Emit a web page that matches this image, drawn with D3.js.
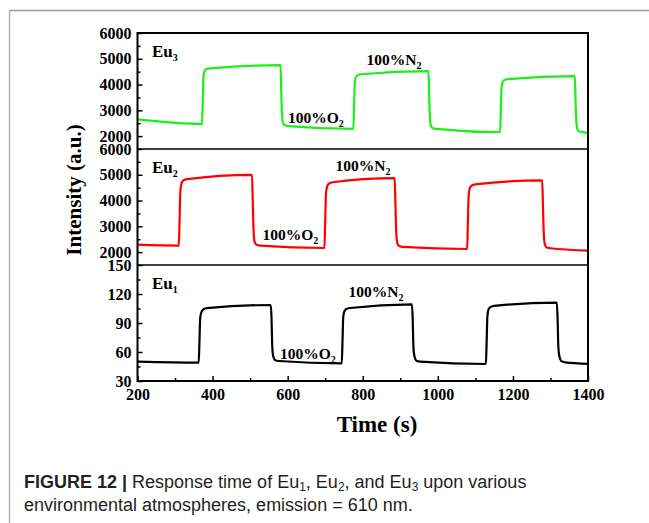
<!DOCTYPE html>
<html><head><meta charset="utf-8">
<script src="https://cdn.jsdelivr.net/npm/d3@7"></script>
<style>body{margin:0;background:#fff}svg{display:block}</style>
</head><body>
<script>
// ---------- data ----------
const xTicks = [200, 400, 600, 800, 1000, 1200, 1400];
const xMinorTicks = [300, 500, 700, 900, 1100, 1300];
const ticksEu3 = [2000, 3000, 4000, 5000, 6000];
const minorEu3 = [2500, 3500, 4500, 5500];
const ticksEu2 = [2000, 3000, 4000, 5000, 6000];
const minorEu2 = [2500, 3500, 4500, 5500];
const ticksEu1 = [30, 60, 90, 120, 150];
const minorEu1 = [45, 75, 105, 135];

// Eu3 (green) time / intensity
const eu3Time = [200, 372, 374, 376, 379, 384, 394, 581, 583, 585, 588, 593, 603,
  775, 777, 779, 782, 787, 797, 975, 977, 979, 982, 987, 997,
  1166, 1168, 1170, 1173, 1178, 1188, 1365, 1367, 1369, 1372, 1377, 1387, 1400];
const eu3Val = [2650, 2470, 3500, 4350, 4530, 4600, 4630, 4750, 3700, 2800, 2500, 2420, 2390,
  2280, 3300, 4100, 4300, 4370, 4400, 4520, 3500, 2700, 2380, 2300, 2280,
  2150, 3150, 3950, 4120, 4180, 4210, 4330, 3300, 2550, 2250, 2180, 2160, 2100];

// Eu2 (red)
const eu2Time = [200, 310, 312, 314, 317, 322, 332, 505, 507, 509, 512, 517, 527,
  698, 700, 702, 705, 710, 720, 885, 887, 889, 892, 897, 907,
  1078, 1080, 1082, 1085, 1090, 1100, 1278, 1280, 1282, 1285, 1290, 1300, 1400];
const eu2Val = [2290, 2255, 3200, 4300, 4650, 4780, 4830, 5000, 4000, 2900, 2400, 2290, 2250,
  2160, 3200, 4250, 4550, 4660, 4710, 4870, 3900, 2850, 2350, 2240, 2200,
  2120, 3100, 4150, 4470, 4580, 4630, 4780, 3800, 2800, 2300, 2180, 2150, 2060];

// Eu1 (black)
const eu1Time = [200, 363, 365, 367, 370, 375, 385, 555, 557, 559, 562, 567, 577,
  744, 746, 748, 751, 756, 766, 931, 933, 935, 938, 943, 953,
  1128, 1130, 1132, 1135, 1140, 1150, 1317, 1319, 1321, 1324, 1329, 1339, 1400];
const eu1Val = [50, 49, 70, 95, 101, 104, 105.3, 108.6, 95, 65, 55, 51.5, 50.7,
  48.3, 70, 96, 102, 104.5, 105.5, 109.3, 95, 65, 55, 51, 50,
  47.6, 70, 97, 104, 106.5, 107.8, 111, 95, 65, 55, 50.5, 49.3, 47.8];

const panelNames = ["Eu3", "Eu2", "Eu1"];
const conditionN2 = "100%N";
const conditionO2 = "100%O";

// ---------- layout ----------
const W = 649, H = 523;
const L = 137.5, R = 588, T = 33, B = 381;
const PH = (B - T) / 3;
const serif = "'Liberation Serif','Times New Roman',serif";

const svg = d3.select("body").append("svg").attr("width", W).attr("height", H);
svg.append("rect").attr("width", W).attr("height", H).attr("fill", "#fff");

// figure border (page frame)
svg.append("line").attr("x1", 9).attr("x2", W).attr("y1", 10.5).attr("y2", 10.5)
  .attr("stroke", "#9a9a9a").attr("stroke-width", 1.5);
svg.append("line").attr("x1", 9.5).attr("x2", 9.5).attr("y1", 10).attr("y2", H)
  .attr("stroke", "#b4b4b4").attr("stroke-width", 1.5);

const x = d3.scaleLinear().domain([200, 1400]).range([L, R]);

const panels = [
  {time: eu3Time, val: eu3Val, domain: [1500, 6000], ticks: ticksEu3, minor: minorEu3, color: "#19f019", name: panelNames[0],
   n2: [366.5, 65], o2: [288, 122.5]},
  {time: eu2Time, val: eu2Val, domain: [1500, 6000], ticks: ticksEu2, minor: minorEu2, color: "#ff0000", name: panelNames[1],
   n2: [335.5, 171], o2: [262.5, 240]},
  {time: eu1Time, val: eu1Val, domain: [30, 150], ticks: ticksEu1, minor: minorEu1, color: "#000000", name: panelNames[2],
   n2: [348.5, 297], o2: [280, 359]},
];

panels.forEach((p, i) => {
  const y0 = T + i * PH, y1 = y0 + PH;
  const y = d3.scaleLinear().domain(p.domain).range([y1, y0]);
  const g = svg.append("g");

  const pts = p.time.map((t, k) => [t, p.val[k]]);
  const line = d3.line().x(d => x(d[0])).y(d => y(d[1])).curve(d3.curveMonotoneX);
  g.append("path").datum(pts).attr("d", line).attr("fill", "none")
    .attr("stroke", p.color).attr("stroke-width", 2.2).attr("stroke-linejoin", "round");

  const ax = g.append("g").attr("transform", `translate(${L},0)`)
    .call(d3.axisLeft(y).tickValues(p.ticks).tickSize(-5).tickPadding(6).tickFormat(d3.format("d")));
  ax.select(".domain").remove();
  ax.selectAll("line").attr("stroke", "#000").attr("stroke-width", 1.5);
  ax.selectAll("text").attr("font-family", serif).attr("font-weight", "bold")
    .attr("font-size", 16).attr("fill", "#000");
  const axm = g.append("g").attr("transform", `translate(${L},0)`)
    .call(d3.axisLeft(y).tickValues(p.minor).tickSize(-3).tickFormat(""));
  axm.select(".domain").remove();
  axm.selectAll("line").attr("stroke", "#000").attr("stroke-width", 1.5);

  const lbl = g.append("text").attr("x", 152).attr("y", y0 + 24)
    .attr("font-family", serif).attr("font-weight", "bold").attr("font-size", 17);
  lbl.append("tspan").text(p.name.slice(0, 2));
  lbl.append("tspan").attr("font-size", 10).attr("dy", 4).text(p.name.slice(2));

  const n2 = g.append("text").attr("x", p.n2[0]).attr("y", p.n2[1])
    .attr("font-family", serif).attr("font-weight", "bold").attr("font-size", 15.5);
  n2.append("tspan").text(conditionN2);
  n2.append("tspan").attr("font-size", 10).attr("dy", 4).text("2");
  const o2 = g.append("text").attr("x", p.o2[0]).attr("y", p.o2[1])
    .attr("font-family", serif).attr("font-weight", "bold").attr("font-size", 15.5);
  o2.append("tspan").text(conditionO2);
  o2.append("tspan").attr("font-size", 10).attr("dy", 4).text("2");

  if (i > 0) {
    svg.append("line").attr("x1", L).attr("x2", R).attr("y1", y0).attr("y2", y0)
      .attr("stroke", "#000").attr("stroke-width", 1.6);
  }
});

const xa = svg.append("g").attr("transform", `translate(0,${B})`)
  .call(d3.axisBottom(x).tickValues(xTicks).tickSize(-5).tickPadding(8).tickFormat(d3.format("d")));
xa.select(".domain").remove();
xa.selectAll("line").attr("stroke", "#000").attr("stroke-width", 1.5);
xa.selectAll("text").attr("font-family", serif).attr("font-weight", "bold")
  .attr("font-size", 16).attr("fill", "#000");
const xam = svg.append("g").attr("transform", `translate(0,${B})`)
  .call(d3.axisBottom(x).tickValues(xMinorTicks).tickSize(-3).tickFormat(""));
xam.select(".domain").remove();
xam.selectAll("line").attr("stroke", "#000").attr("stroke-width", 1.5);

svg.append("rect").attr("x", L).attr("y", T).attr("width", R - L).attr("height", B - T)
  .attr("fill", "none").attr("stroke", "#000").attr("stroke-width", 2);

svg.append("text").attr("x", 377).attr("y", 432).attr("text-anchor", "middle")
  .attr("font-family", serif).attr("font-weight", "bold").attr("font-size", 23).text("Time (s)");
svg.append("text").attr("transform", "translate(81,190) rotate(-90)").attr("text-anchor", "middle")
  .attr("font-family", serif).attr("font-weight", "bold").attr("font-size", 21).text("Intensity (a.u.)");

const sans = "'Liberation Sans',Arial,sans-serif";
const cap1 = svg.append("text").attr("x", 24).attr("y", 488).attr("font-family", sans)
  .attr("font-size", 18).attr("fill", "#231f20");
cap1.append("tspan").attr("font-weight", "bold").text("FIGURE 12 | ");
cap1.append("tspan").text("Response time of Eu");
cap1.append("tspan").attr("font-size", 12).attr("dy", 3).text("1");
cap1.append("tspan").attr("dy", -3).text(", Eu");
cap1.append("tspan").attr("font-size", 12).attr("dy", 3).text("2");
cap1.append("tspan").attr("dy", -3).text(", and Eu");
cap1.append("tspan").attr("font-size", 12).attr("dy", 3).text("3");
cap1.append("tspan").attr("dy", -3).text(" upon various");
svg.append("text").attr("x", 24).attr("y", 511).attr("font-family", sans)
  .attr("font-size", 18).attr("fill", "#231f20")
  .text("environmental atmospheres, emission = 610 nm.");
</script>
</body></html>
